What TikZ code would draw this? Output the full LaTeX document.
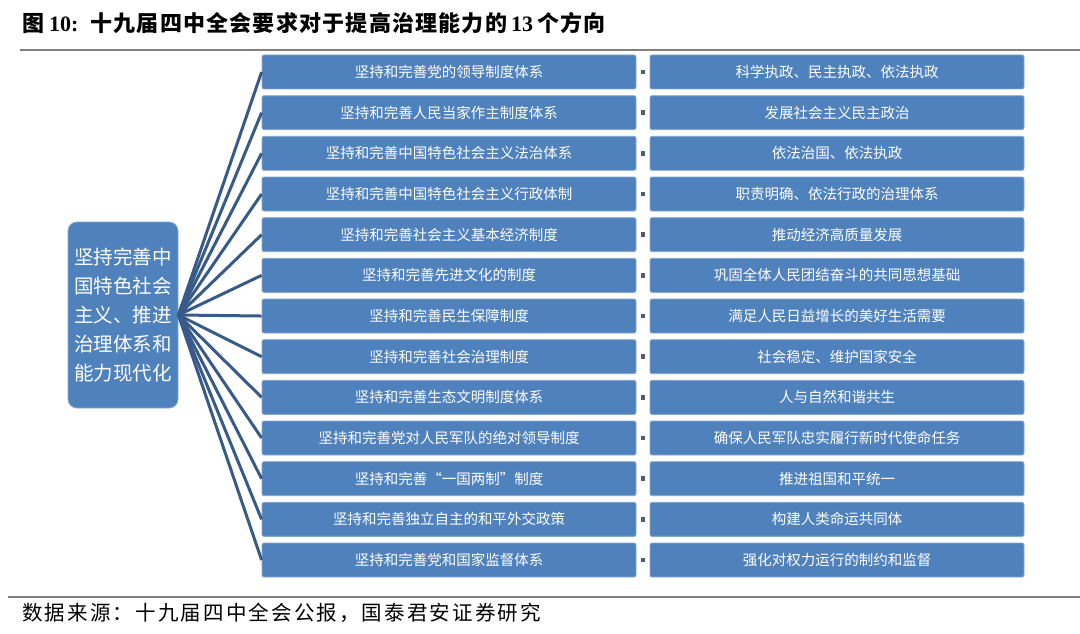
\documentclass[tikz,border=0pt]{standalone}
\usepackage{fontspec}
\newfontfamily\cjk{Noto Sans CJK SC}
\newfontfamily\cjkwide[LetterSpace=10.5]{Noto Sans CJK SC}
\newfontfamily\cjktitle[LetterSpace=5.5]{Noto Sans CJK SC}
\newfontfamily\ser{Liberation Serif}
\definecolor{boxblue}{RGB}{79,129,189}
\definecolor{fanblue}{RGB}{56,90,136}
\definecolor{sqgray}{RGB}{80,92,112}
\definecolor{rulegray}{RGB}{128,128,128}
\tikzset{
  rowbox/.style={draw=boxblue!70!white, line width=0.8pt, fill=boxblue, rounded corners=2pt,
    minimum width=374pt, minimum height=34pt, inner sep=0pt, text=white,
    font=\cjk\fontsize{14.5}{16}\selectfont},
  bigbox/.style={draw=boxblue!70!white, line width=0.8pt, fill=boxblue, rounded corners=9pt,
    minimum width=110pt, minimum height=186pt, inner sep=0pt, text=white, align=center,
    font=\cjk\fontsize{19.5}{29}\selectfont},
  sq/.style={fill=sqgray, minimum size=4.5pt, inner sep=0pt},
  fan/.style={draw=fanblue, line width=3pt},
  rulel/.style={draw=rulegray, line width=2pt}
}
\begin{document}
\begin{tikzpicture}[x=1pt,y=-1pt]
\useasboundingbox (0,0) rectangle (1080,634);
\node[anchor=west, inner sep=0pt, font=\cjktitle\bfseries\fontsize{22}{24}\selectfont] (title) at (22,23)
  {图\hspace{5pt}{\ser\bfseries 10:}\hspace{12pt}十九届四中全会要求对于提高治理能力的\hspace{4pt}{\ser\bfseries 13}\hspace{4pt}个方向};
\coordinate (r1a) at (20,50);
\coordinate (r1b) at (1080,50);
\draw[rulel] (r1a) -- (r1b);
\coordinate (r2a) at (8,597);
\coordinate (r2b) at (1080,597);
\draw[rulel] (r2a) -- (r2b);
\node[anchor=west, inner sep=0pt, font=\cjkwide\fontsize{20.5}{22}\selectfont] (src) at (22,613)
  {数据来源：十九届四中全会公报，国泰君安证券研究};
\node[bigbox] (L) at (123,315) {坚持完善中\\国特色社会\\主义、推进\\治理体系和\\能力现代化};
\foreach \i/\lt/\rt in {
 1/坚持和完善党的领导制度体系/科学执政、民主执政、依法执政,
 2/坚持和完善人民当家作主制度体系/发展社会主义民主政治,
 3/坚持和完善中国特色社会主义法治体系/依法治国、依法执政,
 4/坚持和完善中国特色社会主义行政体制/职责明确、依法行政的治理体系,
 5/坚持和完善社会主义基本经济制度/推动经济高质量发展,
 6/坚持和完善先进文化的制度/巩固全体人民团结奋斗的共同思想基础,
 7/坚持和完善民生保障制度/满足人民日益增长的美好生活需要,
 8/坚持和完善社会治理制度/社会稳定、维护国家安全,
 9/坚持和完善生态文明制度体系/人与自然和谐共生,
 10/坚持和完善党对人民军队的绝对领导制度/确保人民军队忠实履行新时代使命任务,
 11/坚持和完善“一国两制”制度/推进祖国和平统一,
 12/坚持和完善独立自主的和平外交政策/构建人类命运共同体,
 13/坚持和完善党和国家监督体系/强化对权力运行的制约和监督}{
  \pgfmathsetmacro{\yy}{72+40.67*(\i-1)}
  \node[rowbox] (a\i) at (449,\yy) {\lt};
  \node[rowbox] (b\i) at (837,\yy) {\rt};
  \node[sq] (s\i) at (643,\yy) {};
  \draw[fan] (L.east) -- (a\i.west);
}
\end{tikzpicture}
\end{document}
